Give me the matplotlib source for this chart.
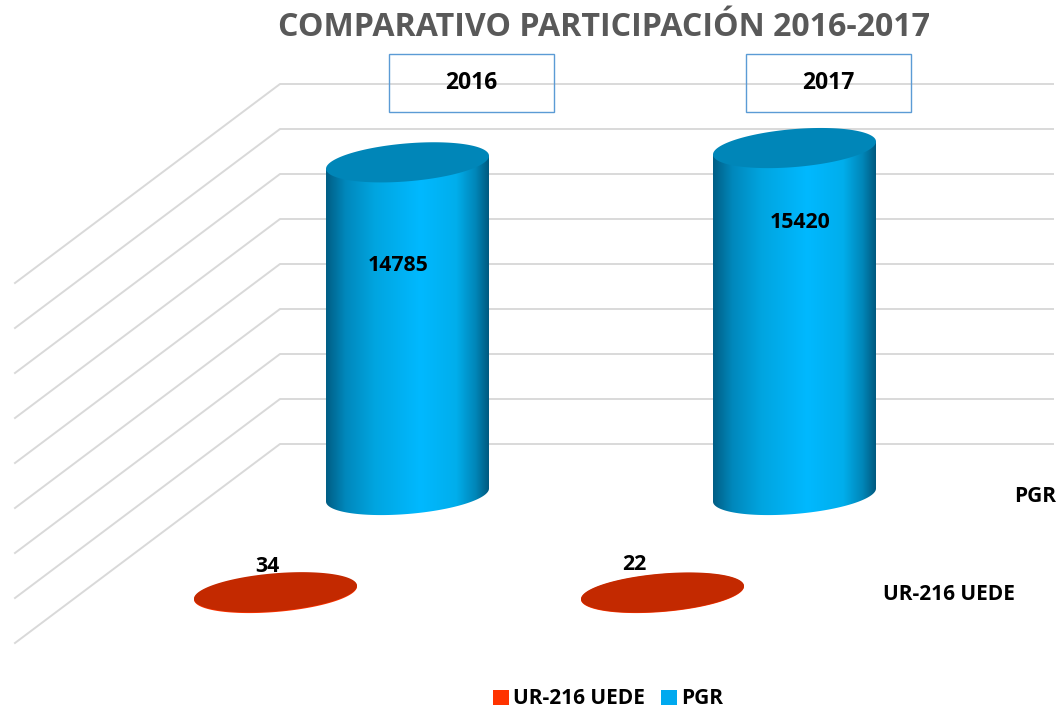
import numpy as np
import matplotlib
matplotlib.use("Agg")
import matplotlib.pyplot as plt
from matplotlib.colors import LinearSegmentedColormap
from matplotlib.patches import Patch, PathPatch, Polygon, Rectangle
from matplotlib.path import Path

plt.rcParams['font.family'] = ['Open Sans', 'DejaVu Sans']

years = ["2016", "2017"]
pgr = [14785, 15420]
ur = [34, 22]
grid_vals = [2000, 4000, 6000, 8000, 10000, 12000, 14000, 16000, 18000]
series_names = ["UR-216 UEDE", "PGR"]

# value axis: 2000 units is 45 pixels, 0 sits on pixel row 489
units = 2000 / 45

def row(p):
    return (489 - p) * units

fig = plt.figure(figsize=(10.58, 7.10), dpi=100)
ax = fig.add_axes([0, 0, 1, 1])
ax.set_xlim(0, 1058)
ax.set_ylim(row(710), row(0))
ax.axis("off")

# floor and back wall lines
for v in grid_vals:
    ax.plot([15, 280, 1053], [v - 199 * units, v, v], color="#D9D9D9", lw=1.4, zorder=1)

blue_ramp = LinearSegmentedColormap.from_list(
    "blue", [(0, "#005E85"), (0.12, "#0088BC"), (0.3, "#00A5E0"), (0.58, "#00B9FF"),
             (0.8, "#00AEEC"), (0.92, "#0086B8"), (1, "#005A80")])

def ellipse(cx, y, a=81.5):
    t = np.linspace(0, 2 * np.pi, 200)
    return np.column_stack([cx + a * np.cos(t),
                            y + (19 * np.sin(t) + 6.5 * np.cos(t)) * units])

def cylinder(cx, val, base, zorder=3):
    low = base
    high = base + val
    t = np.linspace(np.pi, 2 * np.pi, 100)
    bottom = np.column_stack([cx + 81.5 * np.cos(t),
                              low + (19 * np.sin(t) + 6.5 * np.cos(t)) * units])
    top_edge = np.array([[cx + 81.5, high + 6.5 * units], [cx - 81.5, high - 6.5 * units]])
    body = np.vstack([bottom, top_edge, bottom[:1]])
    im = ax.imshow(np.linspace(0, 1, 256)[None, :], cmap=blue_ramp, aspect="auto",
                   extent=[cx - 81.5, cx + 81.5, low - 30 * units, high + 30 * units],
                   zorder=zorder)
    clip = PathPatch(Path(body), transform=ax.transData, fc="none", ec="none")
    ax.add_patch(clip)
    im.set_clip_path(clip)
    ax.add_patch(Polygon(ellipse(cx, high), fc="#0086B8", ec="none", zorder=zorder + 1))

# depth between the two rows of cylinders
pgr_base = row(495)
ur_base = row(593)
centers = [407.5 + 387 * i for i in range(len(years))]

for cx, v in zip(centers, pgr):
    cylinder(cx, v, pgr_base)

for cx, v in zip(centers, ur):
    ax.add_patch(Polygon(ellipse(cx - 132, ur_base), fc="#FF3300", ec="none", zorder=5))
    ax.add_patch(Polygon(ellipse(cx - 132, ur_base + v), fc="#C32900", ec="none", zorder=6))

ax.set_xlim(0, 1058)
ax.set_ylim(row(710), row(0))

# data labels
for cx, v, dx, p in zip(centers, pgr, [-9.5, -7.5 + 0], [266, 222]):
    ax.text(cx + dx + (13 if v == pgr[1] else 0), row(p), str(v), ha="center", va="center",
            fontsize=15.3, fontweight="bold", color="black", zorder=8)
for cx, v, dx, p in zip(centers, ur, [-140, -160], [567, 565]):
    ax.text(cx + dx, row(p), str(v), ha="center", va="center", fontsize=15.3,
            fontweight="bold", color="black", zorder=4)

# year boxes
for i, y in enumerate(years):
    box_x = 471.5 + 357 * i
    ax.add_patch(Rectangle((box_x - 82.5, row(112)), 165, 58 * units, fc="none",
                           ec="#5B9BD5", lw=1.0, zorder=8))
    ax.text(box_x, row(83), y, ha="center", va="center", fontsize=16.5,
            fontweight="bold", color="black", zorder=9)

ax.text(1056, row(496), series_names[1], ha="right", va="center", fontsize=15,
        fontweight="bold", color="black")
ax.text(1015, row(595), series_names[0], ha="right", va="center", fontsize=15,
        fontweight="bold", color="black")

ax.text(603.5, row(28), "COMPARATIVO PARTICIPACIÓN 2016-2017", ha="center", va="center",
        fontsize=23.1, fontweight="bold", color="#595959")

handles = [Patch(fc="#FF3300", label=series_names[0]), Patch(fc="#00A9EF", label=series_names[1])]
ax.legend(handles=handles, loc="center", bbox_to_anchor=(608 / 1058, 1 - 699 / 710), ncol=2,
          frameon=False, handlelength=0.75, handleheight=0.75, handletextpad=0.2,
          columnspacing=0.8, prop={"size": 15, "weight": "bold"})

fig.savefig("out.png", dpi=100)
